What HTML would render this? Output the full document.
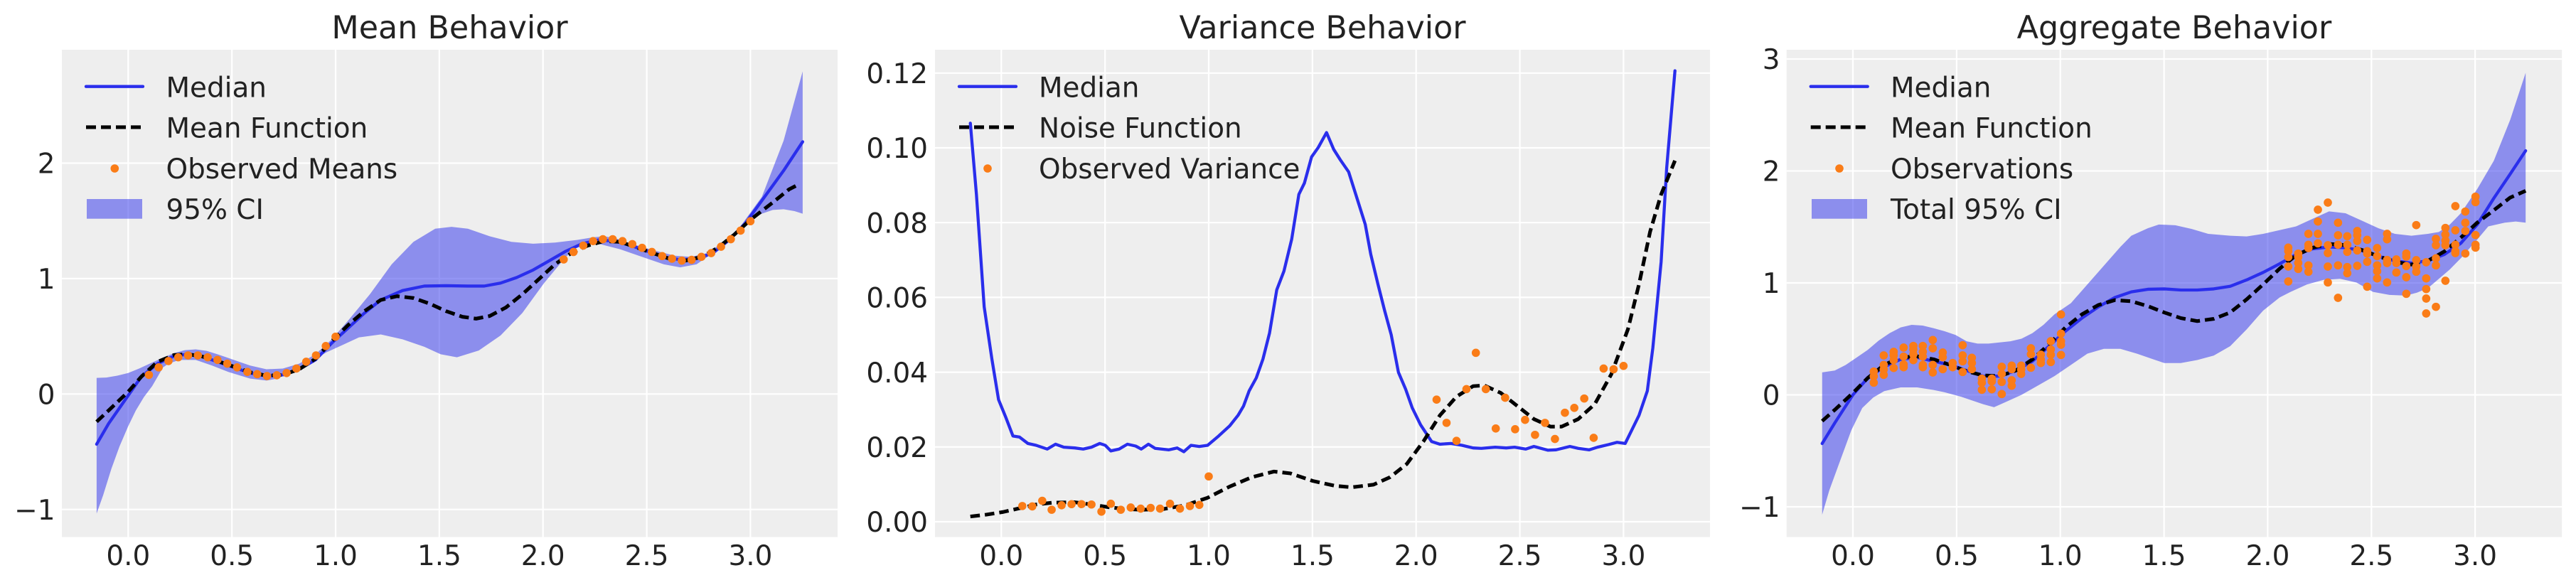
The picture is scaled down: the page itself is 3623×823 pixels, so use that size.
<!DOCTYPE html>
<html><head><meta charset="utf-8"><style>
html,body{margin:0;padding:0;background:#fff;}
svg{display:block;}
text{font-family:"DejaVu Sans","Liberation Sans",sans-serif;fill:#222;}
.t{font-size:44.4px;text-anchor:middle;}
.xt{font-size:38.9px;text-anchor:middle;}
.yt{font-size:38.9px;text-anchor:end;}
.lg{font-size:38.9px;}
.g{stroke:#fff;stroke-width:2.2;}
.med{fill:none;stroke:#2a2eec;stroke-width:4.3;stroke-linejoin:round;stroke-linecap:round;vector-effect:non-scaling-stroke;}
.mf{fill:none;stroke:#000;stroke-width:5.1;stroke-dasharray:13.5 7;stroke-linejoin:round;vector-effect:non-scaling-stroke;}
.band{fill:#2a2eec;fill-opacity:0.5;stroke:none;}
.d{fill:#fa7c17;}
</style></head><body>
<svg width="3623" height="823" viewBox="0 0 3623 823" xmlns="http://www.w3.org/2000/svg">
<rect width="3623" height="823" fill="#fff"/>

<!-- ===== Panel 1 ===== -->
<rect x="87" y="70" width="1091" height="685.5" fill="#eeeeee"/>
<g class="g">
<line x1="180.3" y1="70" x2="180.3" y2="755.5"/><line x1="326.2" y1="70" x2="326.2" y2="755.5"/><line x1="472" y1="70" x2="472" y2="755.5"/><line x1="617.9" y1="70" x2="617.9" y2="755.5"/><line x1="763.7" y1="70" x2="763.7" y2="755.5"/><line x1="909.6" y1="70" x2="909.6" y2="755.5"/><line x1="1055.4" y1="70" x2="1055.4" y2="755.5"/>
<line x1="87" y1="229.5" x2="1178" y2="229.5"/><line x1="87" y1="391.9" x2="1178" y2="391.9"/><line x1="87" y1="554.3" x2="1178" y2="554.3"/><line x1="87" y1="716.7" x2="1178" y2="716.7"/>
</g>
<g transform="matrix(0.76562 0 0 0.52727 -0.39 -2.5)">
<path class="band" d="M178,1013 L196,1012 L216,1007 L236,1000 L256,988 L280,972 L300,959 L320,947 L340,939 L360,937 L380,941 L400,950 L420,960 L440,970 L460,980 L490,990 L520,988 L550,975 L580,950 L610,910 L640,860 L680,790 L720,710 L760,650 L800,615 L830,610 L860,615 L900,635 L940,650 L980,655 L1020,652 L1060,645 L1090,638 L1110,635 L1130,640 L1160,655 L1200,672 L1240,687 L1270,690 L1300,680 L1330,650 L1360,610 L1400,530 L1440,380 L1475,195 L1475,575 L1460,568 L1440,563 L1420,565 L1400,575 L1370,600 L1340,640 L1310,680 L1280,710 L1250,718 L1220,710 L1180,690 L1140,670 L1100,655 L1080,655 L1060,665 L1040,690 L1000,760 L960,840 L920,900 L880,940 L840,958 L810,950 L780,930 L740,910 L700,897 L660,905 L630,925 L600,945 L570,970 L540,995 L510,1015 L490,1020 L460,1015 L420,997 L390,980 L360,965 L330,965 L310,975 L300,985 L280,1035 L265,1064 L250,1100 L236,1142 L220,1196 L205,1256 L190,1326 L178,1375 Z"/>
<path class="med" d="M178,1190 L200,1135 L236,1060 L260,1010 L290,975 L320,955 L345,950 L370,955 L400,970 L430,985 L460,1000 L490,1008 L520,1005 L550,990 L580,965 L610,920 L640,880 L670,840 L700,805 L740,780 L780,768 L820,767 L860,768 L890,768 L920,760 L950,745 L980,725 L1010,700 L1040,675 L1070,655 L1100,645 L1130,648 L1160,660 L1190,675 L1220,690 L1250,698 L1280,695 L1310,680 L1340,645 L1370,600 L1400,540 L1440,460 L1475,383"/>
<path class="mf" d="M178,1130 L200,1100 L236,1050 L260,1010 L290,970 L320,952 L345,950 L370,955 L400,968 L430,983 L460,998 L490,1007 L520,1005 L550,990 L580,962 L610,915 L640,872 L670,835 L700,805 L730,795 L760,800 L790,815 L820,835 L850,850 L875,855 L900,848 L930,825 L960,790 L990,750 L1020,710 L1050,680 L1080,660 L1110,648 L1140,650 L1170,665 L1200,680 L1230,695 L1260,700 L1290,690 L1320,665 L1350,630 L1380,590 L1420,545 L1450,510 L1470,495"/>
<g class="d">
<ellipse cx="274" cy="1005" rx="7.58" ry="11"/><ellipse cx="292" cy="985" rx="7.58" ry="11"/><ellipse cx="310" cy="968" rx="7.58" ry="11"/><ellipse cx="328" cy="958" rx="7.58" ry="11"/><ellipse cx="346" cy="953" rx="7.58" ry="11"/><ellipse cx="364" cy="953" rx="7.58" ry="11"/><ellipse cx="382" cy="958" rx="7.58" ry="11"/><ellipse cx="400" cy="965" rx="7.58" ry="11"/><ellipse cx="418" cy="975" rx="7.58" ry="11"/><ellipse cx="436" cy="985" rx="7.58" ry="11"/><ellipse cx="455" cy="997" rx="7.58" ry="11"/><ellipse cx="473" cy="1003" rx="7.58" ry="11"/><ellipse cx="491" cy="1008" rx="7.58" ry="11"/><ellipse cx="509" cy="1006" rx="7.58" ry="11"/><ellipse cx="527" cy="1000" rx="7.58" ry="11"/><ellipse cx="545" cy="988" rx="7.58" ry="11"/><ellipse cx="563" cy="970" rx="7.58" ry="11"/><ellipse cx="581" cy="953" rx="7.58" ry="11"/><ellipse cx="599" cy="928" rx="7.58" ry="11"/><ellipse cx="617" cy="903" rx="7.58" ry="11"/>
<ellipse cx="1036" cy="697" rx="7.58" ry="11"/><ellipse cx="1054" cy="677" rx="7.58" ry="11"/><ellipse cx="1072" cy="660" rx="7.58" ry="11"/><ellipse cx="1090" cy="648" rx="7.58" ry="11"/><ellipse cx="1108" cy="643" rx="7.58" ry="11"/><ellipse cx="1126" cy="643" rx="7.58" ry="11"/><ellipse cx="1144" cy="648" rx="7.58" ry="11"/><ellipse cx="1162" cy="656" rx="7.58" ry="11"/><ellipse cx="1180" cy="666" rx="7.58" ry="11"/><ellipse cx="1198" cy="677" rx="7.58" ry="11"/><ellipse cx="1217" cy="688" rx="7.58" ry="11"/><ellipse cx="1235" cy="695" rx="7.58" ry="11"/><ellipse cx="1253" cy="700" rx="7.58" ry="11"/><ellipse cx="1271" cy="698" rx="7.58" ry="11"/><ellipse cx="1289" cy="690" rx="7.58" ry="11"/><ellipse cx="1307" cy="680" rx="7.58" ry="11"/><ellipse cx="1325" cy="663" rx="7.58" ry="11"/><ellipse cx="1343" cy="643" rx="7.58" ry="11"/><ellipse cx="1361" cy="620" rx="7.58" ry="11"/><ellipse cx="1379" cy="595" rx="7.58" ry="11"/>
</g>
</g>
<text class="t" x="632.5" y="54">Mean Behavior</text>
<text class="yt" x="77.5" y="243.7">2</text><text class="yt" x="77.5" y="406.1">1</text><text class="yt" x="77.5" y="568.5">0</text><text class="yt" x="77.5" y="730.9">−1</text>
<text class="xt" x="180.3" y="795">0.0</text><text class="xt" x="326.2" y="795">0.5</text><text class="xt" x="472" y="795">1.0</text><text class="xt" x="617.9" y="795">1.5</text><text class="xt" x="763.7" y="795">2.0</text><text class="xt" x="909.6" y="795">2.5</text><text class="xt" x="1055.4" y="795">3.0</text>
<!-- legend 1 -->
<line x1="121" y1="121.7" x2="201" y2="121.7" stroke="#2a2eec" stroke-width="4.3" stroke-linecap="round"/>
<line x1="121" y1="178.9" x2="201" y2="178.9" stroke="#000" stroke-width="5.1" stroke-dasharray="14 7"/>
<circle cx="161.3" cy="237" r="5.8" fill="#fa7c17"/>
<rect x="122" y="280" width="78" height="27.7" fill="#2a2eec" fill-opacity="0.5"/>
<text class="lg" x="233.5" y="136.5">Median</text>
<text class="lg" x="233.5" y="193.7">Mean Function</text>
<text class="lg" x="233.5" y="250.9">Observed Means</text>
<text class="lg" x="233.5" y="308.1">95% CI</text>

<!-- ===== Panel 2 ===== -->
<rect x="1315" y="70" width="1090" height="685.5" fill="#eeeeee"/>
<g class="g">
<line x1="1408.3" y1="70" x2="1408.3" y2="755.5"/><line x1="1554.2" y1="70" x2="1554.2" y2="755.5"/><line x1="1700" y1="70" x2="1700" y2="755.5"/><line x1="1845.9" y1="70" x2="1845.9" y2="755.5"/><line x1="1991.7" y1="70" x2="1991.7" y2="755.5"/><line x1="2137.6" y1="70" x2="2137.6" y2="755.5"/><line x1="2283.4" y1="70" x2="2283.4" y2="755.5"/>
<line x1="1315" y1="102.8" x2="2405" y2="102.8"/><line x1="1315" y1="208" x2="2405" y2="208"/><line x1="1315" y1="313.2" x2="2405" y2="313.2"/><line x1="1315" y1="418.4" x2="2405" y2="418.4"/><line x1="1315" y1="523.6" x2="2405" y2="523.6"/><line x1="1315" y1="628.8" x2="2405" y2="628.8"/><line x1="1315" y1="734" x2="2405" y2="734"/>
</g>
<g transform="matrix(0.77787 0 0 0.52696 1200.6 -0.58)">
<path class="med" d="M211,330 L222,520 L236,820 L250,960 L262,1068 L275,1115 L288,1165 L300,1168 L315,1185 L330,1190 L350,1200 L365,1187 L380,1195 L400,1197 L415,1200 L430,1195 L445,1185 L455,1190 L465,1205 L480,1200 L495,1187 L510,1192 L520,1200 L533,1187 L545,1198 L570,1202 L585,1197 L597,1207 L610,1190 L625,1193 L640,1190 L660,1165 L680,1138 L695,1110 L705,1085 L715,1045 L728,1010 L740,960 L752,890 L765,775 L778,725 L792,640 L805,520 L815,490 L828,420 L840,395 L855,355 L868,400 L880,428 L895,460 L910,530 L925,600 L935,680 L948,760 L960,830 L972,895 L985,995 L998,1040 L1010,1090 L1025,1135 L1045,1180 L1060,1187 L1080,1185 L1100,1190 L1120,1197 L1135,1198 L1160,1195 L1180,1197 L1195,1195 L1215,1200 L1230,1193 L1255,1203 L1270,1202 L1295,1193 L1310,1198 L1330,1202 L1345,1195 L1365,1188 L1380,1182 L1395,1185 L1410,1140 L1420,1110 L1435,1045 L1445,930 L1460,700 L1470,450 L1485,190"/>
<path class="mf" d="M211,1380 L240,1375 L270,1368 L300,1358 L330,1348 L360,1343 L400,1342 L430,1348 L460,1355 L490,1360 L520,1362 L560,1360 L600,1350 L640,1330 L680,1300 L720,1275 L760,1260 L790,1265 L830,1285 L870,1298 L900,1302 L940,1295 L970,1275 L1000,1240 L1030,1180 L1060,1110 L1090,1060 L1120,1032 L1140,1030 L1170,1050 L1200,1085 L1230,1120 L1260,1140 L1280,1140 L1310,1120 L1340,1080 L1370,1000 L1400,880 L1420,760 L1440,620 L1460,520 L1485,430"/>
<g class="d">
<ellipse cx="305" cy="1352" rx="7.46" ry="11"/><ellipse cx="323" cy="1353" rx="7.46" ry="11"/><ellipse cx="341" cy="1338" rx="7.46" ry="11"/><ellipse cx="358" cy="1362" rx="7.46" ry="11"/><ellipse cx="376" cy="1350" rx="7.46" ry="11"/><ellipse cx="394" cy="1347" rx="7.46" ry="11"/><ellipse cx="412" cy="1347" rx="7.46" ry="11"/><ellipse cx="430" cy="1348" rx="7.46" ry="11"/><ellipse cx="448" cy="1367" rx="7.46" ry="11"/><ellipse cx="465" cy="1346" rx="7.46" ry="11"/><ellipse cx="483" cy="1362" rx="7.46" ry="11"/><ellipse cx="501" cy="1356" rx="7.46" ry="11"/><ellipse cx="519" cy="1359" rx="7.46" ry="11"/><ellipse cx="537" cy="1357" rx="7.46" ry="11"/><ellipse cx="554" cy="1359" rx="7.46" ry="11"/><ellipse cx="572" cy="1346" rx="7.46" ry="11"/><ellipse cx="590" cy="1359" rx="7.46" ry="11"/><ellipse cx="608" cy="1352" rx="7.46" ry="11"/><ellipse cx="625" cy="1349" rx="7.46" ry="11"/><ellipse cx="642" cy="1273" rx="7.46" ry="11"/>
<ellipse cx="1054" cy="1068" rx="7.46" ry="11"/><ellipse cx="1072" cy="1130" rx="7.46" ry="11"/><ellipse cx="1090" cy="1178" rx="7.46" ry="11"/><ellipse cx="1108" cy="1040" rx="7.46" ry="11"/><ellipse cx="1125" cy="943" rx="7.46" ry="11"/><ellipse cx="1143" cy="1040" rx="7.46" ry="11"/><ellipse cx="1161" cy="1145" rx="7.46" ry="11"/><ellipse cx="1178" cy="1063" rx="7.46" ry="11"/><ellipse cx="1196" cy="1147" rx="7.46" ry="11"/><ellipse cx="1214" cy="1122" rx="7.46" ry="11"/><ellipse cx="1232" cy="1162" rx="7.46" ry="11"/><ellipse cx="1250" cy="1130" rx="7.46" ry="11"/><ellipse cx="1268" cy="1173" rx="7.46" ry="11"/><ellipse cx="1286" cy="1103" rx="7.46" ry="11"/><ellipse cx="1303" cy="1090" rx="7.46" ry="11"/><ellipse cx="1321" cy="1065" rx="7.46" ry="11"/><ellipse cx="1338" cy="1170" rx="7.46" ry="11"/><ellipse cx="1356" cy="985" rx="7.46" ry="11"/><ellipse cx="1374" cy="987" rx="7.46" ry="11"/><ellipse cx="1392" cy="978" rx="7.46" ry="11"/>
</g>
</g>
<text class="t" x="1860" y="54">Variance Behavior</text>
<text class="yt" x="1305" y="117">0.12</text><text class="yt" x="1305" y="222.2">0.10</text><text class="yt" x="1305" y="327.4">0.08</text><text class="yt" x="1305" y="432.6">0.06</text><text class="yt" x="1305" y="537.8">0.04</text><text class="yt" x="1305" y="643">0.02</text><text class="yt" x="1305" y="748.2">0.00</text>
<text class="xt" x="1408.3" y="795">0.0</text><text class="xt" x="1554.2" y="795">0.5</text><text class="xt" x="1700" y="795">1.0</text><text class="xt" x="1845.9" y="795">1.5</text><text class="xt" x="1991.7" y="795">2.0</text><text class="xt" x="2137.6" y="795">2.5</text><text class="xt" x="2283.4" y="795">3.0</text>
<!-- legend 2 -->
<line x1="1349" y1="121.7" x2="1429" y2="121.7" stroke="#2a2eec" stroke-width="4.3" stroke-linecap="round"/>
<line x1="1349" y1="178.9" x2="1429" y2="178.9" stroke="#000" stroke-width="5.1" stroke-dasharray="14 7"/>
<circle cx="1389" cy="237" r="5.8" fill="#fa7c17"/>
<text class="lg" x="1461" y="136.5">Median</text>
<text class="lg" x="1461" y="193.7">Noise Function</text>
<text class="lg" x="1461" y="250.9">Observed Variance</text>

<!-- ===== Panel 3 ===== -->
<rect x="2512.7" y="70" width="1090.5" height="685.5" fill="#eeeeee"/>
<g class="g">
<line x1="2606" y1="70" x2="2606" y2="755.5"/><line x1="2751.9" y1="70" x2="2751.9" y2="755.5"/><line x1="2897.7" y1="70" x2="2897.7" y2="755.5"/><line x1="3043.6" y1="70" x2="3043.6" y2="755.5"/><line x1="3189.4" y1="70" x2="3189.4" y2="755.5"/><line x1="3335.3" y1="70" x2="3335.3" y2="755.5"/><line x1="3481.1" y1="70" x2="3481.1" y2="755.5"/>
<line x1="2512.7" y1="83" x2="3603.2" y2="83"/><line x1="2512.7" y1="240.5" x2="3603.2" y2="240.5"/><line x1="2512.7" y1="398" x2="3603.2" y2="398"/><line x1="2512.7" y1="555.5" x2="3603.2" y2="555.5"/><line x1="2512.7" y1="713" x2="3603.2" y2="713"/>
</g>
<g transform="matrix(0.77237 0 0 0.52676 2410.6 -0.23)">
<path class="band" d="M197,995 L220,990 L240,975 L260,955 L280,935 L300,910 L320,890 L340,875 L360,868 L380,870 L400,877 L420,885 L440,895 L460,912 L480,918 L500,918 L520,915 L540,912 L560,905 L580,890 L600,868 L620,840 L650,810 L680,760 L710,710 L740,660 L760,630 L790,610 L810,600 L840,602 L870,612 L900,625 L940,630 L970,632 L1000,625 L1030,615 L1060,605 L1090,585 L1120,565 L1150,570 L1180,590 L1210,610 L1240,625 L1270,630 L1300,625 L1320,620 L1340,600 L1360,570 L1390,505 L1420,430 L1450,320 L1478,195 L1478,595 L1460,592 L1440,595 L1410,605 L1390,640 L1360,690 L1340,720 L1320,745 L1300,770 L1280,782 L1260,790 L1230,788 L1200,780 L1170,755 L1140,745 L1110,748 L1080,760 L1050,780 L1030,795 L1000,830 L970,880 L940,925 L910,950 L880,962 L850,970 L820,970 L800,960 L770,945 L740,932 L710,932 L680,945 L650,975 L620,1005 L590,1030 L560,1055 L530,1075 L510,1088 L490,1080 L470,1070 L450,1060 L420,1048 L400,1042 L370,1035 L340,1035 L310,1045 L290,1062 L270,1090 L250,1150 L230,1230 L210,1310 L197,1375 Z"/>
<path class="med" d="M197,1185 L220,1130 L253,1055 L280,1010 L310,980 L340,960 L370,955 L400,965 L430,975 L460,990 L490,1005 L520,1005 L550,990 L580,965 L610,925 L640,885 L670,850 L700,820 L730,795 L760,780 L790,773 L820,772 L850,775 L880,775 L910,772 L940,765 L970,748 L1000,728 L1030,705 L1060,680 L1090,665 L1120,660 L1150,662 L1180,670 L1210,685 L1240,697 L1270,703 L1300,697 L1330,680 L1360,650 L1390,600 L1420,530 L1450,465 L1478,403"/>
<path class="mf" d="M197,1125 L220,1095 L253,1050 L280,1010 L310,975 L340,955 L370,952 L400,960 L430,975 L460,992 L490,1003 L520,1005 L550,990 L580,960 L610,920 L640,875 L670,840 L700,815 L730,802 L760,805 L790,818 L820,835 L850,850 L880,858 L910,852 L940,835 L970,800 L1000,760 L1030,718 L1060,682 L1090,662 L1120,652 L1150,655 L1180,668 L1210,685 L1240,700 L1270,707 L1300,697 L1330,672 L1360,635 L1390,595 L1420,562 L1450,528 L1478,510"/>
</g>
<g class="d" transform="translate(2620,420) scale(0.333333)">
<circle cx="46" cy="308" r="17.5"/><circle cx="46" cy="328" r="17.5"/><circle cx="46" cy="355" r="17.5"/>
<circle cx="88" cy="240" r="17.5"/><circle cx="88" cy="280" r="17.5"/><circle cx="88" cy="300" r="17.5"/><circle cx="88" cy="322" r="17.5"/>
<circle cx="130" cy="225" r="17.5"/><circle cx="130" cy="240" r="17.5"/><circle cx="130" cy="260" r="17.5"/><circle cx="130" cy="293" r="17.5"/>
<circle cx="172" cy="207" r="17.5"/><circle cx="172" cy="245" r="17.5"/><circle cx="172" cy="278" r="17.5"/><circle cx="172" cy="290" r="17.5"/>
<circle cx="213" cy="200" r="17.5"/><circle cx="213" cy="215" r="17.5"/><circle cx="213" cy="235" r="17.5"/><circle cx="213" cy="260" r="17.5"/>
<circle cx="253" cy="200" r="17.5"/><circle cx="253" cy="225" r="17.5"/><circle cx="253" cy="245" r="17.5"/><circle cx="253" cy="280" r="17.5"/><circle cx="253" cy="290" r="17.5"/>
<circle cx="295" cy="175" r="17.5"/><circle cx="295" cy="210" r="17.5"/><circle cx="295" cy="280" r="17.5"/><circle cx="295" cy="312" r="17.5"/>
<circle cx="337" cy="228" r="17.5"/><circle cx="337" cy="248" r="17.5"/><circle cx="337" cy="298" r="17.5"/>
<circle cx="379" cy="272" r="17.5"/><circle cx="379" cy="290" r="17.5"/>
<circle cx="421" cy="197" r="17.5"/><circle cx="421" cy="240" r="17.5"/><circle cx="421" cy="265" r="17.5"/><circle cx="421" cy="310" r="17.5"/>
<circle cx="460" cy="250" r="17.5"/><circle cx="460" cy="272" r="17.5"/><circle cx="460" cy="298" r="17.5"/>
<circle cx="502" cy="338" r="17.5"/><circle cx="502" cy="355" r="17.5"/><circle cx="502" cy="385" r="17.5"/>
<circle cx="544" cy="338" r="17.5"/><circle cx="544" cy="350" r="17.5"/><circle cx="544" cy="383" r="17.5"/>
<circle cx="586" cy="288" r="17.5"/><circle cx="586" cy="318" r="17.5"/><circle cx="586" cy="352" r="17.5"/><circle cx="586" cy="403" r="17.5"/>
<circle cx="628" cy="283" r="17.5"/><circle cx="628" cy="298" r="17.5"/><circle cx="628" cy="345" r="17.5"/><circle cx="628" cy="368" r="17.5"/>
<circle cx="668" cy="283" r="17.5"/><circle cx="668" cy="300" r="17.5"/><circle cx="668" cy="318" r="17.5"/>
<circle cx="709" cy="210" r="17.5"/><circle cx="709" cy="235" r="17.5"/><circle cx="709" cy="292" r="17.5"/>
<circle cx="751" cy="237" r="17.5"/><circle cx="751" cy="258" r="17.5"/><circle cx="751" cy="272" r="17.5"/>
<circle cx="793" cy="180" r="17.5"/><circle cx="793" cy="215" r="17.5"/><circle cx="793" cy="237" r="17.5"/><circle cx="793" cy="268" r="17.5"/>
<circle cx="836" cy="67" r="17.5"/><circle cx="836" cy="148" r="17.5"/><circle cx="836" cy="180" r="17.5"/><circle cx="836" cy="195" r="17.5"/><circle cx="836" cy="238" r="17.5"/>
</g>
<g class="d" transform="translate(3200,255) scale(0.333333)">
<circle cx="55" cy="280" r="17.5"/><circle cx="55" cy="295" r="17.5"/><circle cx="55" cy="320" r="17.5"/><circle cx="55" cy="360" r="17.5"/><circle cx="55" cy="423" r="17.5"/>
<circle cx="97" cy="305" r="17.5"/><circle cx="97" cy="320" r="17.5"/><circle cx="97" cy="345" r="17.5"/><circle cx="97" cy="370" r="17.5"/>
<circle cx="140" cy="222" r="17.5"/><circle cx="140" cy="268" r="17.5"/><circle cx="140" cy="282" r="17.5"/><circle cx="140" cy="355" r="17.5"/><circle cx="140" cy="382" r="17.5"/>
<circle cx="180" cy="120" r="17.5"/><circle cx="180" cy="170" r="17.5"/><circle cx="180" cy="222" r="17.5"/><circle cx="180" cy="262" r="17.5"/>
<circle cx="222" cy="90" r="17.5"/><circle cx="222" cy="270" r="17.5"/><circle cx="222" cy="303" r="17.5"/><circle cx="222" cy="360" r="17.5"/><circle cx="222" cy="427" r="17.5"/>
<circle cx="265" cy="175" r="17.5"/><circle cx="265" cy="228" r="17.5"/><circle cx="265" cy="268" r="17.5"/><circle cx="265" cy="355" r="17.5"/><circle cx="265" cy="492" r="17.5"/>
<circle cx="304" cy="232" r="17.5"/><circle cx="304" cy="268" r="17.5"/><circle cx="304" cy="298" r="17.5"/><circle cx="304" cy="362" r="17.5"/><circle cx="304" cy="388" r="17.5"/>
<circle cx="346" cy="210" r="17.5"/><circle cx="346" cy="228" r="17.5"/><circle cx="346" cy="252" r="17.5"/><circle cx="346" cy="292" r="17.5"/><circle cx="346" cy="357" r="17.5"/>
<circle cx="388" cy="247" r="17.5"/><circle cx="388" cy="295" r="17.5"/><circle cx="388" cy="305" r="17.5"/><circle cx="388" cy="340" r="17.5"/><circle cx="388" cy="445" r="17.5"/>
<circle cx="430" cy="282" r="17.5"/><circle cx="430" cy="316" r="17.5"/><circle cx="430" cy="355" r="17.5"/><circle cx="430" cy="380" r="17.5"/><circle cx="430" cy="410" r="17.5"/>
<circle cx="472" cy="222" r="17.5"/><circle cx="472" cy="245" r="17.5"/><circle cx="472" cy="332" r="17.5"/><circle cx="472" cy="345" r="17.5"/><circle cx="472" cy="427" r="17.5"/>
<circle cx="511" cy="330" r="17.5"/><circle cx="511" cy="345" r="17.5"/><circle cx="511" cy="385" r="17.5"/>
<circle cx="553" cy="305" r="17.5"/><circle cx="553" cy="318" r="17.5"/><circle cx="553" cy="358" r="17.5"/><circle cx="553" cy="405" r="17.5"/><circle cx="553" cy="475" r="17.5"/>
<circle cx="595" cy="185" r="17.5"/><circle cx="595" cy="333" r="17.5"/><circle cx="595" cy="360" r="17.5"/><circle cx="595" cy="382" r="17.5"/>
<circle cx="637" cy="342" r="17.5"/><circle cx="637" cy="410" r="17.5"/><circle cx="637" cy="455" r="17.5"/><circle cx="637" cy="495" r="17.5"/><circle cx="637" cy="558" r="17.5"/>
<circle cx="678" cy="243" r="17.5"/><circle cx="678" cy="270" r="17.5"/><circle cx="678" cy="325" r="17.5"/><circle cx="678" cy="355" r="17.5"/><circle cx="678" cy="530" r="17.5"/>
<circle cx="718" cy="197" r="17.5"/><circle cx="718" cy="225" r="17.5"/><circle cx="718" cy="250" r="17.5"/><circle cx="718" cy="270" r="17.5"/><circle cx="718" cy="420" r="17.5"/>
<circle cx="760" cy="105" r="17.5"/><circle cx="760" cy="207" r="17.5"/><circle cx="760" cy="268" r="17.5"/><circle cx="760" cy="295" r="17.5"/><circle cx="760" cy="303" r="17.5"/>
<circle cx="802" cy="128" r="17.5"/><circle cx="802" cy="175" r="17.5"/><circle cx="802" cy="210" r="17.5"/><circle cx="802" cy="305" r="17.5"/>
<circle cx="845" cy="65" r="17.5"/><circle cx="845" cy="88" r="17.5"/><circle cx="845" cy="227" r="17.5"/><circle cx="845" cy="268" r="17.5"/><circle cx="845" cy="280" r="17.5"/>
</g>
<text class="t" x="3057.9" y="54">Aggregate Behavior</text>
<text class="yt" x="2503.5" y="97.2">3</text><text class="yt" x="2503.5" y="254.7">2</text><text class="yt" x="2503.5" y="412.2">1</text><text class="yt" x="2503.5" y="569.7">0</text><text class="yt" x="2503.5" y="727.2">−1</text>
<text class="xt" x="2606" y="795">0.0</text><text class="xt" x="2751.9" y="795">0.5</text><text class="xt" x="2897.7" y="795">1.0</text><text class="xt" x="3043.6" y="795">1.5</text><text class="xt" x="3189.4" y="795">2.0</text><text class="xt" x="3335.3" y="795">2.5</text><text class="xt" x="3481.1" y="795">3.0</text>
<!-- legend 3 -->
<line x1="2546.7" y1="121.7" x2="2626.7" y2="121.7" stroke="#2a2eec" stroke-width="4.3" stroke-linecap="round"/>
<line x1="2546.7" y1="178.9" x2="2626.7" y2="178.9" stroke="#000" stroke-width="5.1" stroke-dasharray="14 7"/>
<circle cx="2587" cy="237" r="5.8" fill="#fa7c17"/>
<rect x="2548" y="280" width="78" height="27.7" fill="#2a2eec" fill-opacity="0.5"/>
<text class="lg" x="2659" y="136.5">Median</text>
<text class="lg" x="2659" y="193.7">Mean Function</text>
<text class="lg" x="2659" y="250.9">Observations</text>
<text class="lg" x="2659" y="308.1">Total 95% CI</text>
</svg>
</body></html>
